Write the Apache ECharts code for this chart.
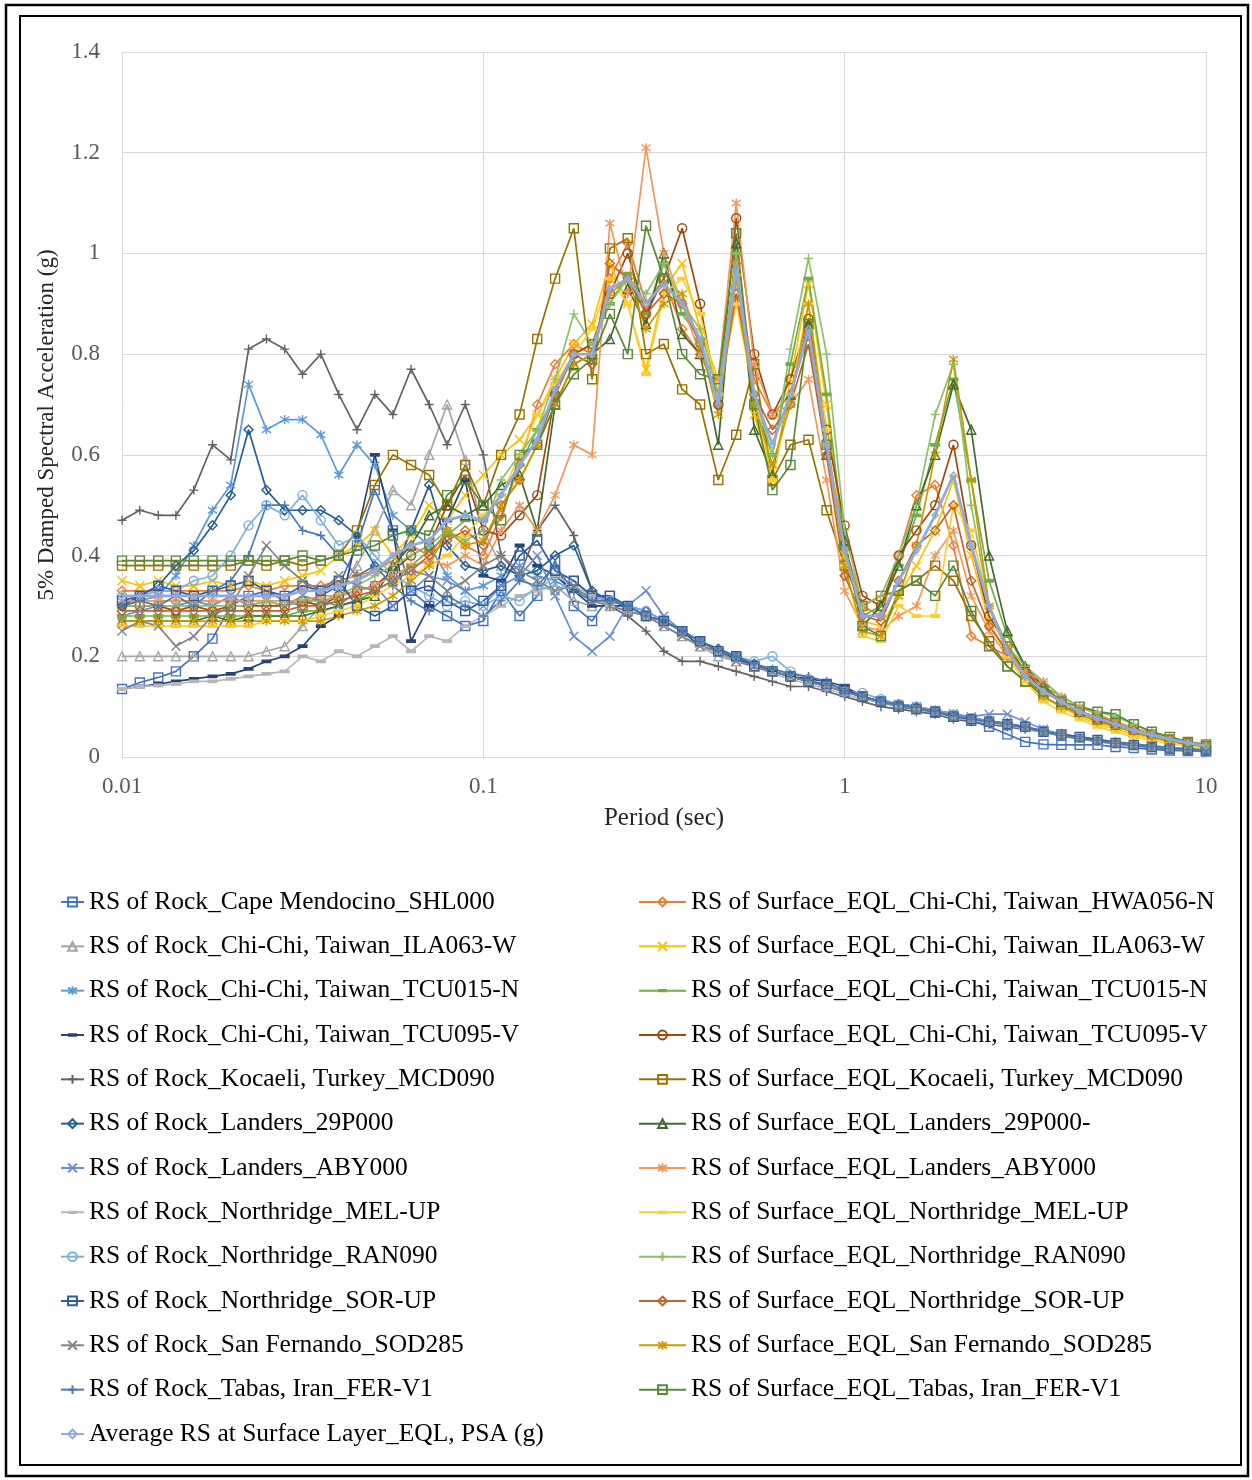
<!DOCTYPE html>
<html><head><meta charset="utf-8">
<script src="https://cdn.jsdelivr.net/npm/echarts@6/dist/echarts.min.js"></script>
<style>html,body{margin:0;padding:0;background:#fff}#c{width:1252px;height:1480px}</style>
</head><body><div id="c"></div>
<script>
// ---------- DATA ----------
const periods = [0.01,0.0112,0.0126,0.0141,0.0158,0.0178,0.02,0.0224,0.0251,0.0282,
  0.0316,0.0355,0.0398,0.0447,0.0501,0.0562,0.0631,0.0708,0.0794,0.0891,
  0.1,0.112,0.126,0.141,0.158,0.178,0.2,0.224,0.251,0.282,
  0.316,0.355,0.398,0.447,0.501,0.562,0.631,0.708,0.794,0.891,
  1.0,1.12,1.26,1.41,1.58,1.78,2.0,2.24,2.51,2.82,
  3.16,3.55,3.98,4.47,5.01,5.62,6.31,7.08,7.94,8.91,10];
const xTickLabels = ['0.01','0.1','1','10'];
const yTickLabels = ['0','0.2','0.4','0.6','0.8','1','1.2','1.4'];

const rockCapeMendocino = [0.135,0.148,0.158,0.17,0.2,0.235,0.3,0.32,0.33,0.31,0.3,0.32,0.34,0.42,0.53,0.45,0.33,0.3,0.28,0.26,0.27,0.33,0.28,0.32,0.39,0.3,0.27,
  0.32,0.29,0.28,0.27,0.25,0.23,0.21,0.2,0.18,0.17,0.16,0.15,0.14,0.13,0.12,0.11,0.1,0.095,0.088,0.08,0.072,0.06,0.045,0.03,0.025,0.024,0.024,0.024,0.02,0.018,0.015,0.013,0.012,0.011];
const rockILA063 = [0.2,0.2,0.2,0.2,0.2,0.2,0.2,0.2,0.21,0.22,0.26,0.3,0.33,0.38,0.45,0.53,0.5,0.6,0.7,0.59,0.45,0.38,0.36,0.33,0.34,0.31,0.3,
  0.3,0.29,0.28,0.26,0.24,0.22,0.2,0.19,0.18,0.17,0.16,0.15,0.14,0.13,0.12,0.11,0.1,0.097,0.09,0.083,0.076,0.07,0.066,0.06,0.052,0.045,0.038,0.032,0.027,0.023,0.02,0.017,0.015,0.013];
const rockTCU015 = [0.3,0.31,0.32,0.36,0.42,0.49,0.54,0.74,0.65,0.67,0.67,0.64,0.56,0.62,0.58,0.48,0.45,0.42,0.36,0.33,0.34,0.36,0.38,0.36,0.35,0.33,0.32,
  0.31,0.3,0.28,0.27,0.25,0.23,0.21,0.2,0.18,0.17,0.16,0.15,0.14,0.13,0.12,0.11,0.105,0.1,0.092,0.085,0.078,0.072,0.066,0.058,0.05,0.044,0.038,0.033,0.028,0.024,0.021,0.018,0.015,0.013];
const rockTCU095 = [0.135,0.14,0.145,0.15,0.155,0.16,0.165,0.175,0.19,0.2,0.22,0.26,0.28,0.44,0.6,0.45,0.23,0.3,0.47,0.55,0.36,0.35,0.42,0.38,0.36,0.33,0.3,
  0.3,0.3,0.28,0.27,0.25,0.22,0.21,0.195,0.18,0.17,0.16,0.155,0.15,0.14,0.12,0.11,0.105,0.098,0.09,0.082,0.075,0.07,0.064,0.057,0.05,0.042,0.036,0.031,0.026,0.022,0.019,0.016,0.014,0.012];
const rockKocaeli = [0.47,0.49,0.48,0.48,0.53,0.62,0.59,0.81,0.83,0.81,0.76,0.8,0.72,0.65,0.72,0.68,0.77,0.7,0.62,0.7,0.6,0.4,0.36,0.45,0.5,0.44,0.33,
  0.3,0.28,0.25,0.21,0.19,0.19,0.18,0.17,0.16,0.15,0.14,0.14,0.13,0.12,0.11,0.1,0.095,0.09,0.085,0.075,0.07,0.065,0.06,0.055,0.05,0.045,0.04,0.035,0.03,0.026,0.022,0.019,0.016,0.014];
const rockLanders29P = [0.3,0.32,0.34,0.38,0.41,0.46,0.52,0.65,0.53,0.49,0.49,0.49,0.47,0.44,0.38,0.36,0.45,0.54,0.42,0.38,0.37,0.38,0.36,0.37,0.4,0.42,0.33,
  0.31,0.3,0.29,0.27,0.25,0.23,0.215,0.2,0.185,0.17,0.16,0.15,0.14,0.13,0.12,0.11,0.105,0.1,0.092,0.084,0.077,0.072,0.067,0.06,0.052,0.045,0.039,0.033,0.028,0.024,0.02,0.017,0.015,0.013];
const rockLandersABY = [0.28,0.29,0.3,0.3,0.31,0.3,0.32,0.3,0.31,0.3,0.32,0.31,0.3,0.33,0.34,0.3,0.33,0.36,0.35,0.33,0.3,0.34,0.36,0.4,0.32,0.24,0.21,
  0.24,0.3,0.33,0.28,0.25,0.23,0.21,0.2,0.18,0.17,0.16,0.15,0.14,0.13,0.12,0.11,0.105,0.1,0.093,0.086,0.08,0.085,0.085,0.07,0.055,0.045,0.038,0.032,0.027,0.023,0.02,0.017,0.015,0.013];
const rockMELUP = [0.135,0.14,0.142,0.145,0.15,0.15,0.155,0.16,0.165,0.17,0.2,0.19,0.21,0.2,0.22,0.24,0.21,0.24,0.23,0.26,0.28,0.3,0.32,0.33,0.36,0.34,0.32,
  0.3,0.29,0.28,0.26,0.24,0.22,0.205,0.19,0.18,0.165,0.155,0.145,0.135,0.125,0.115,0.108,0.1,0.095,0.088,0.08,0.073,0.068,0.063,0.056,0.049,0.042,0.036,0.031,0.026,0.022,0.019,0.016,0.014,0.012];
const rockRAN090 = [0.32,0.32,0.33,0.33,0.35,0.36,0.4,0.46,0.5,0.48,0.52,0.47,0.42,0.44,0.4,0.36,0.34,0.32,0.3,0.31,0.3,0.32,0.31,0.34,0.33,0.35,0.32,
  0.31,0.3,0.29,0.27,0.25,0.23,0.21,0.2,0.19,0.2,0.17,0.155,0.14,0.13,0.127,0.115,0.105,0.1,0.092,0.084,0.077,0.071,0.066,0.059,0.051,0.044,0.038,0.033,0.028,0.024,0.021,0.018,0.015,0.013];
const rockSORUP = [0.31,0.32,0.34,0.33,0.32,0.33,0.34,0.35,0.33,0.32,0.34,0.33,0.35,0.3,0.28,0.3,0.33,0.34,0.31,0.29,0.31,0.34,0.4,0.43,0.37,0.35,0.32,
  0.32,0.3,0.28,0.27,0.25,0.23,0.21,0.2,0.18,0.17,0.16,0.15,0.145,0.135,0.12,0.11,0.1,0.095,0.09,0.08,0.075,0.07,0.065,0.06,0.05,0.045,0.04,0.034,0.028,0.024,0.02,0.017,0.015,0.013];
const rockSanFernando = [0.25,0.27,0.26,0.22,0.24,0.28,0.3,0.36,0.42,0.38,0.35,0.33,0.36,0.34,0.33,0.35,0.37,0.36,0.33,0.35,0.38,0.4,0.37,0.35,0.33,0.34,0.31,
  0.3,0.29,0.28,0.26,0.24,0.22,0.21,0.19,0.18,0.17,0.16,0.15,0.14,0.13,0.12,0.11,0.1,0.096,0.09,0.083,0.076,0.07,0.065,0.058,0.05,0.043,0.037,0.032,0.027,0.023,0.02,0.017,0.015,0.013];
const rockTabas = [0.3,0.31,0.3,0.32,0.3,0.33,0.35,0.4,0.5,0.5,0.45,0.44,0.4,0.36,0.38,0.34,0.31,0.29,0.32,0.3,0.28,0.31,0.35,0.34,0.38,0.33,0.31,
  0.31,0.3,0.28,0.27,0.25,0.23,0.21,0.2,0.185,0.175,0.165,0.16,0.15,0.13,0.12,0.11,0.105,0.098,0.09,0.082,0.075,0.07,0.065,0.058,0.05,0.043,0.037,0.032,0.027,0.023,0.02,0.017,0.015,0.013];

const surfHWA056 = [0.33,0.33,0.33,0.33,0.33,0.33,0.33,0.34,0.33,0.34,0.34,0.34,0.35,0.36,0.37,0.39,0.42,0.4,0.45,0.42,
  0.4,0.48,0.58,0.7,0.78,0.82,0.8,0.95,1.02,0.9,0.95,0.85,0.8,0.72,0.98,0.75,0.68,0.72,0.84,0.6,
  0.42,0.3,0.28,0.4,0.52,0.54,0.42,0.24,0.22,0.2,0.16,0.12,0.1,0.085,0.07,0.06,0.05,0.04,0.032,0.026,0.02];
const surfILA063 = [0.35,0.34,0.35,0.34,0.34,0.35,0.34,0.35,0.34,0.35,0.36,0.37,0.4,0.42,0.45,0.4,0.44,0.5,0.47,0.52,
  0.56,0.6,0.63,0.68,0.75,0.82,0.86,0.98,0.9,0.77,0.93,0.98,0.85,0.75,0.95,0.68,0.55,0.75,0.94,0.7,
  0.4,0.27,0.26,0.32,0.38,0.45,0.55,0.4,0.27,0.2,0.15,0.12,0.1,0.08,0.065,0.055,0.045,0.038,0.03,0.025,0.02];
const surfTCU015 = [0.28,0.28,0.28,0.28,0.28,0.28,0.28,0.28,0.28,0.28,0.29,0.29,0.3,0.31,0.33,0.35,0.38,0.41,0.44,0.47,
  0.47,0.52,0.58,0.65,0.72,0.8,0.82,0.9,0.96,0.88,0.98,0.88,0.83,0.7,1.0,0.7,0.6,0.78,0.95,0.72,
  0.42,0.28,0.3,0.38,0.48,0.62,0.75,0.55,0.35,0.24,0.18,0.14,0.12,0.1,0.085,0.07,0.058,0.047,0.038,0.03,0.024];
const surfTCU095 = [0.3,0.3,0.3,0.29,0.3,0.29,0.3,0.3,0.3,0.3,0.31,0.3,0.32,0.33,0.34,0.37,0.4,0.42,0.5,0.56,
  0.45,0.44,0.48,0.52,0.72,0.8,0.82,0.92,1.0,0.88,0.95,1.05,0.9,0.7,1.07,0.8,0.68,0.75,0.87,0.65,
  0.46,0.32,0.3,0.4,0.45,0.5,0.62,0.42,0.28,0.22,0.17,0.13,0.11,0.09,0.075,0.062,0.052,0.043,0.035,0.028,0.022];
const surfKocaeli = [0.38,0.38,0.38,0.38,0.38,0.38,0.38,0.39,0.38,0.39,0.38,0.39,0.4,0.45,0.54,0.6,0.58,0.56,0.5,0.58,
  0.5,0.6,0.68,0.83,0.95,1.05,0.75,1.01,1.03,0.8,0.82,0.73,0.7,0.55,0.64,0.78,0.55,0.62,0.63,0.49,
  0.38,0.3,0.32,0.33,0.35,0.38,0.35,0.28,0.23,0.18,0.15,0.12,0.1,0.09,0.08,0.07,0.055,0.045,0.035,0.028,0.022];
const surfLanders29P = [0.27,0.27,0.27,0.27,0.27,0.28,0.27,0.28,0.28,0.28,0.28,0.29,0.3,0.31,0.32,0.38,0.42,0.48,0.5,0.48,
  0.5,0.54,0.56,0.45,0.7,0.78,0.8,0.83,0.93,0.86,1.0,0.84,0.8,0.62,1.02,0.65,0.56,0.72,0.86,0.6,
  0.43,0.26,0.3,0.38,0.5,0.6,0.74,0.65,0.4,0.25,0.18,0.14,0.11,0.09,0.075,0.062,0.05,0.04,0.032,0.025,0.02];
const surfLandersABY = [0.31,0.31,0.31,0.31,0.31,0.31,0.31,0.31,0.31,0.31,0.31,0.32,0.32,0.33,0.34,0.36,0.38,0.39,0.38,0.4,
  0.38,0.45,0.5,0.45,0.52,0.62,0.6,1.06,0.92,1.21,1.0,0.9,0.8,0.75,1.1,0.78,0.68,0.7,0.75,0.55,
  0.33,0.26,0.25,0.28,0.3,0.4,0.45,0.32,0.25,0.2,0.17,0.15,0.12,0.1,0.085,0.07,0.057,0.046,0.037,0.03,0.023];
const surfMELUP = [0.26,0.26,0.26,0.26,0.26,0.26,0.26,0.26,0.27,0.27,0.27,0.28,0.29,0.3,0.32,0.34,0.36,0.38,0.4,0.44,
  0.48,0.52,0.6,0.68,0.74,0.8,0.85,0.95,0.9,0.76,0.92,0.95,0.88,0.72,0.9,0.72,0.55,0.72,0.9,0.65,
  0.38,0.24,0.23,0.3,0.28,0.28,0.5,0.45,0.3,0.2,0.15,0.11,0.09,0.075,0.06,0.05,0.04,0.033,0.027,0.022,0.018];
const surfRAN090 = [0.3,0.3,0.3,0.3,0.3,0.3,0.3,0.3,0.31,0.3,0.31,0.31,0.32,0.34,0.36,0.38,0.4,0.42,0.45,0.43,
  0.45,0.55,0.6,0.65,0.75,0.88,0.82,0.9,0.95,0.92,0.98,0.9,0.85,0.72,1.0,0.72,0.6,0.81,0.99,0.8,
  0.45,0.3,0.32,0.4,0.5,0.68,0.78,0.5,0.3,0.22,0.18,0.15,0.12,0.1,0.09,0.08,0.065,0.05,0.04,0.03,0.024];
const surfSORUP = [0.29,0.29,0.29,0.29,0.29,0.29,0.29,0.29,0.29,0.29,0.3,0.3,0.31,0.32,0.33,0.35,0.37,0.4,0.43,0.45,
  0.42,0.5,0.55,0.62,0.72,0.8,0.78,0.98,0.95,0.88,0.92,0.9,0.82,0.7,0.92,0.72,0.65,0.7,0.82,0.6,
  0.36,0.28,0.27,0.35,0.42,0.45,0.5,0.35,0.26,0.21,0.17,0.14,0.11,0.09,0.075,0.063,0.052,0.043,0.035,0.028,0.022];
const surfSanFernando = [0.27,0.27,0.27,0.27,0.27,0.27,0.27,0.27,0.27,0.27,0.27,0.27,0.28,0.29,0.3,0.32,0.35,0.38,0.45,0.42,
  0.43,0.5,0.55,0.62,0.7,0.78,0.8,0.92,0.95,0.85,0.9,0.92,0.82,0.68,0.95,0.7,0.58,0.7,0.9,0.62,
  0.38,0.25,0.24,0.32,0.42,0.6,0.79,0.55,0.3,0.22,0.16,0.12,0.1,0.085,0.07,0.06,0.05,0.04,0.032,0.026,0.02];
const surfTabas = [0.39,0.39,0.39,0.39,0.39,0.39,0.39,0.39,0.39,0.39,0.4,0.39,0.4,0.41,0.42,0.44,0.45,0.44,0.52,0.55,
  0.5,0.47,0.6,0.62,0.7,0.76,0.79,0.88,0.8,1.055,0.95,0.8,0.76,0.75,1.04,0.7,0.53,0.58,0.86,0.62,
  0.42,0.26,0.24,0.33,0.35,0.32,0.38,0.29,0.22,0.18,0.15,0.13,0.11,0.1,0.09,0.085,0.065,0.05,0.04,0.03,0.025];
const averageSurface = [0.32,0.32,0.32,0.32,0.32,0.32,0.32,0.32,0.32,0.32,0.33,0.33,0.34,0.35,0.37,0.4,0.42,0.43,0.47,0.48,
  0.47,0.52,0.58,0.63,0.73,0.8,0.8,0.93,0.95,0.9,0.94,0.9,0.83,0.7,0.97,0.72,0.62,0.72,0.85,0.62,
  0.41,0.28,0.28,0.35,0.41,0.48,0.56,0.42,0.3,0.21,0.16,0.13,0.11,0.09,0.077,0.065,0.053,0.044,0.035,0.028,0.022];

const rockNames = ['RS of Rock_Cape Mendocino_SHL000','RS of Rock_Chi-Chi, Taiwan_ILA063-W','RS of Rock_Chi-Chi, Taiwan_TCU015-N',
  'RS of Rock_Chi-Chi, Taiwan_TCU095-V','RS of Rock_Kocaeli, Turkey_MCD090','RS of Rock_Landers_29P000','RS of Rock_Landers_ABY000',
  'RS of Rock_Northridge_MEL-UP','RS of Rock_Northridge_RAN090','RS of Rock_Northridge_SOR-UP','RS of Rock_San Fernando_SOD285',
  'RS of Rock_Tabas, Iran_FER-V1'];
const surfNames = ['RS of Surface_EQL_Chi-Chi, Taiwan_HWA056-N','RS of Surface_EQL_Chi-Chi, Taiwan_ILA063-W','RS of Surface_EQL_Chi-Chi, Taiwan_TCU015-N',
  'RS of Surface_EQL_Chi-Chi, Taiwan_TCU095-V','RS of Surface_EQL_Kocaeli, Turkey_MCD090','RS of Surface_EQL_Landers_29P000-',
  'RS of Surface_EQL_Landers_ABY000','RS of Surface_EQL_Northridge_MEL-UP','RS of Surface_EQL_Northridge_RAN090',
  'RS of Surface_EQL_Northridge_SOR-UP','RS of Surface_EQL_San Fernando_SOD285','RS of Surface_EQL_Tabas, Iran_FER-V1'];
const averageName = 'Average RS at Surface Layer_EQL, PSA (g)';

const rockValues = [rockCapeMendocino,rockILA063,rockTCU015,rockTCU095,rockKocaeli,rockLanders29P,rockLandersABY,rockMELUP,rockRAN090,rockSORUP,rockSanFernando,rockTabas];
const surfValues = [surfHWA056,surfILA063,surfTCU015,surfTCU095,surfKocaeli,surfLanders29P,surfLandersABY,surfMELUP,surfRAN090,surfSORUP,surfSanFernando,surfTabas];

// ---------- STYLE ----------
const SYM = {
  square:'rect', triangle:'triangle', diamond:'diamond', circle:'circle',
  x:'path://M0,0L10,10M10,0L0,10',
  plus:'path://M5,0L5,10M0,5L10,5',
  star:'path://M5,0L5,10M0,1.5L10,8.5M10,1.5L0,8.5',
  dash:'path://M0,0L0.02,0L0,0.02ZM0,3.1L10,3.1L10,6.9L0,6.9ZM10,10L9.98,10L10,9.98Z'
};
const rockStyle = [
  ['#4472C4','square'],['#A5A5A5','triangle'],['#5B9BD5','star'],['#264478','dash'],['#636363','plus'],['#255E91','diamond'],
  ['#698ED0','x'],['#B7B7B7','dash'],['#7CAFDD','circle'],['#335AA1','square'],['#848484','x'],['#497CAA','plus']];
const surfStyle = [
  ['#ED7D31','diamond'],['#FFC000','x'],['#70AD47','dash'],['#9E480E','circle'],['#997300','square'],['#43682B','triangle'],
  ['#F1975A','star'],['#FFCD33','dash'],['#8CC168','plus'],['#C0652A','diamond'],['#CC9A00','star'],['#5A8A39','square']];

const FONT = '"Liberation Serif", "Times New Roman", serif';

function mkSeries(name, vals, color, sym, opts) {
  opts = opts || {};
  const isDash = sym === 'dash';
  return {
    name, type:'line',
    data: periods.map((p,i)=>[p, vals[i]]),
    symbol: SYM[sym],
    symbolSize: isDash ? 10 : (opts.size || 9),
    showAllSymbol: true,
    lineStyle: { color, width: opts.width || 1.7 },
    itemStyle: isDash ? { color, borderWidth:0 } : { color:'rgba(255,255,255,0)', borderColor: color, borderWidth: 1.4 },
    emphasis: { disabled:true },
    z: opts.z || 2
  };
}

const series = [];
for (let i=0;i<12;i++){
  series.push(mkSeries(rockNames[i], rockValues[i], rockStyle[i][0], rockStyle[i][1]));
  series.push(mkSeries(surfNames[i], surfValues[i], surfStyle[i][0], surfStyle[i][1]));
}
series.push(mkSeries(averageName, averageSurface, '#8FAADC', 'diamond', {width:2.8, size:6, z:3}));

const legendCommon = {
  orient:'vertical', itemHeight:11, itemGap:18.33, padding:0,
  textStyle:{ fontFamily:FONT, fontSize:25.5, color:'#000' },
  selectedMode:false
};

const chart = echarts.init(document.getElementById('c'), null, {renderer:'canvas'});
chart.setOption({
  animation:false,
  backgroundColor:'#fff',
  grid:{ left:122, right:46, top:52, bottom:723, containLabel:false },
  xAxis:{
    type:'log', logBase:10, min:0.01, max:10,
    name:'Period (sec)', nameLocation:'middle', nameGap:49,
    nameTextStyle:{ fontFamily:FONT, fontSize:25, color:'#262626' },
    axisLine:{ show:true, lineStyle:{ color:'#D9D9D9', width:1 } },
    axisTick:{ show:false },
    splitLine:{ show:true, lineStyle:{ color:'#D9D9D9', width:1 } },
    minorSplitLine:{ show:false },
    axisLabel:{ fontFamily:FONT, fontSize:23, color:'#595959', margin:18,
      formatter:(v)=> xTickLabels[Math.round(Math.log10(v))+2] }
  },
  yAxis:{
    type:'value', min:0, max:1.4, interval:0.2,
    axisLine:{ show:false }, axisTick:{ show:false },
    splitLine:{ show:true, lineStyle:{ color:'#D9D9D9', width:1 } },
    axisLabel:{ fontFamily:FONT, fontSize:23, color:'#595959', margin:22,
      formatter:(v)=> yTickLabels[Math.round(v/0.2)] }
  },
  legend:[
    Object.assign({}, legendCommon, { left:60, top:889, itemWidth:23, data: rockNames.concat([averageName]) }),
    Object.assign({}, legendCommon, { left:638, top:889, itemWidth:47, data: surfNames })
  ],
  graphic:[
    { type:'rect', shape:{ x:6, y:5, width:1242, height:1471 }, style:{ fill:'none', stroke:'#000', lineWidth:2.5 }, silent:true },
    { type:'rect', shape:{ x:20, y:16, width:1221, height:1449 }, style:{ fill:'none', stroke:'#000', lineWidth:2 }, silent:true },
    { type:'text', x:47, y:425, rotation:Math.PI/2, silent:true,
      style:{ text:'5% Damped Spectral Acceleration (g)', fontFamily:FONT, fontSize:23, fill:'#262626', align:'center', verticalAlign:'middle' } }
  ],
  series
});
</script></body></html>
